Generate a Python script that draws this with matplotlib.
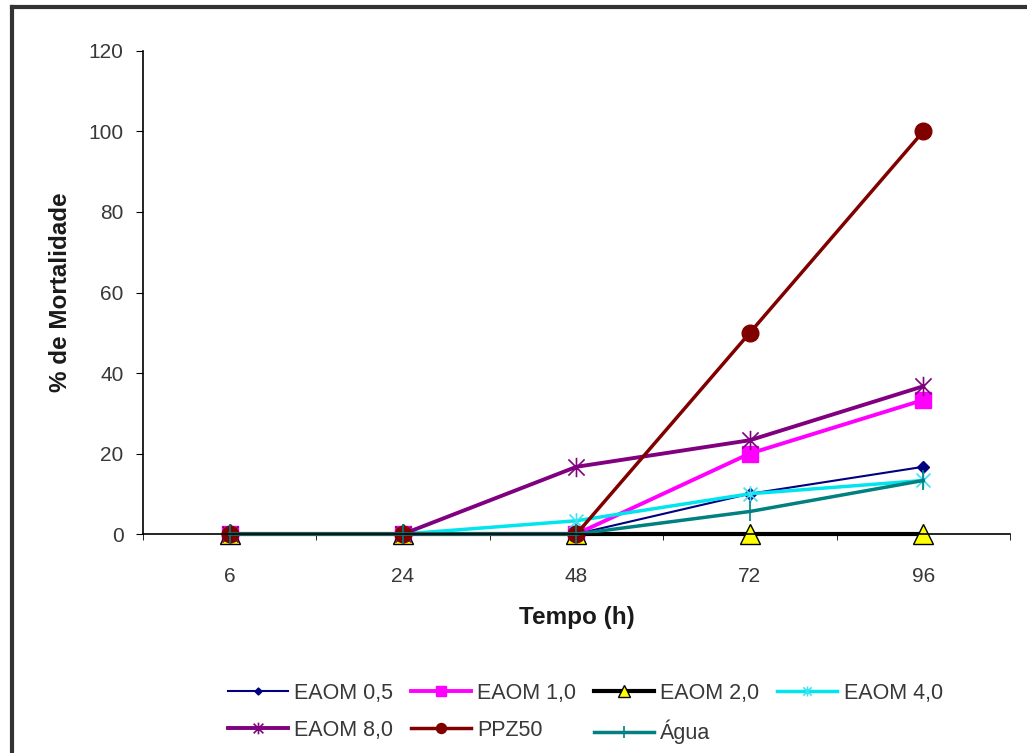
import matplotlib.pyplot as plt
from matplotlib.path import Path
from matplotlib.lines import Line2D

plt.rcParams['font.family'] = ['Liberation Sans', 'DejaVu Sans']

hours = ["6", "24", "48", "72", "96"]

eaom_05 = [0, 0, 0, 10, 16.7]
eaom_10 = [0, 0, 0, 20, 33.3]
eaom_20 = [0, 0, 0, 0, 0]
eaom_40 = [0, 0, 3.3, 10, 13.3]
eaom_80 = [0, 0, 16.7, 23.3, 36.7]
ppz50 = [0, 0, 0, 50, 100]
agua = [0, 0, 0, 5.6, 13.3]

labels = ["EAOM 0,5", "EAOM 1,0", "EAOM 2,0", "EAOM 4,0",
          "EAOM 8,0", "PPZ50", "Água"]

# excel style "star": an x with a vertical bar
star = Path([(-1, -1), (1, 1), (-1, 1), (1, -1), (0, -1.2), (0, 1.2)],
            [Path.MOVETO, Path.LINETO, Path.MOVETO, Path.LINETO,
             Path.MOVETO, Path.LINETO])
plus = Path([(0, -1), (0, 1)], [Path.MOVETO, Path.LINETO])

fig = plt.figure(figsize=(10.27, 7.53), dpi=100)
ax = fig.add_axes([0.1392, 0.2908, 0.8442, 0.6415])

x = list(range(len(hours)))
h = []
h += ax.plot(x, eaom_05, color='#000080', lw=1.5, marker='D', ms=6,
             mfc='#000080', mec='#000080', clip_on=False)
h += ax.plot(x, eaom_10, color='#ff00ff', lw=2.8, marker='s', ms=11,
             mfc='#ff00ff', mec='#ff00ff', clip_on=False)
h += ax.plot(x, eaom_20, color='#000000', lw=3, marker='^', ms=14,
             mfc='#ffff00', mec='#000000', mew=1, clip_on=False)
h += ax.plot(x, eaom_40, color='#00e5ee', lw=2.5, marker=star, ms=12,
             mec='#40e0f0', mew=1.2, clip_on=False)
h += ax.plot(x, eaom_80, color='#800080', lw=2.8, marker=star, ms=14,
             mec='#800080', mew=1.2, clip_on=False)
h += ax.plot(x, ppz50, color='#800000', lw=2.5, marker='o', ms=12,
             mfc='#800000', mec='#800000', clip_on=False)
h += ax.plot(x, agua, color='#008080', lw=2.5, marker=plus, ms=14,
             mec='#008080', mew=1.2, clip_on=False)

ax.set_xlim(-0.5, len(hours) - 0.5)
ax.set_ylim(0, 120)
ax.set_yticks(range(0, 121, 20))
ax.set_xticks(x)
ax.set_xticklabels(hours)
ax.set_xticks([i - 0.5 for i in range(len(hours) + 1)], minor=True)
ax.tick_params(axis='x', which='major', length=0, pad=24,
               labelsize=15, labelcolor='#383838')
ax.tick_params(axis='x', which='minor', length=4, direction='out')
ax.tick_params(axis='y', length=5, direction='out', pad=9,
               labelsize=15, labelcolor='#383838')
for s in ['top', 'right']:
    ax.spines[s].set_visible(False)
for s in ['left', 'bottom']:
    ax.spines[s].set_linewidth(1.2)

ax.set_xlabel("Tempo (h)", fontsize=17.5, fontweight='bold', labelpad=14,
              color='#1a1a1a')
ax.set_ylabel("% de Mortalidade", fontsize=17.5, fontweight='bold',
              labelpad=12, color='#1a1a1a')

order = [0, 4, 1, 5, 2, 6, 3]
fig.legend([h[i] for i in order], [labels[i] for i in order], ncol=4,
           loc='upper left', bbox_to_anchor=(217 / 1027, 1 - 672 / 753),
           frameon=False, borderpad=0, fontsize=15.5, handlelength=2.8,
           handletextpad=0.3, columnspacing=0.8, labelspacing=0.75,
           markerscale=0.6, labelcolor='#383838')

# page frame (left and top visible)
fig.add_artist(Line2D([12 / 1027, 12 / 1027], [0, 1 - 7 / 753],
                      transform=fig.transFigure, color='#333333', lw=3))
fig.add_artist(Line2D([12 / 1027, 1], [1 - 7 / 753, 1 - 7 / 753],
                      transform=fig.transFigure, color='#333333', lw=3))

fig.savefig("out.png", dpi=100)
